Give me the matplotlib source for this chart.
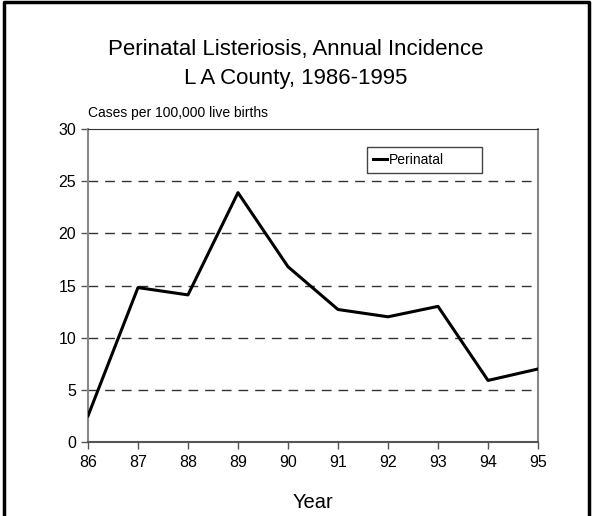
import matplotlib
matplotlib.use('Agg')
import matplotlib.pyplot as plt

years = [86, 87, 88, 89, 90, 91, 92, 93, 94, 95]
incidence = [2.5, 14.8, 14.1, 23.9, 16.8, 12.7, 12.0, 13.0, 5.9, 7.0]
y_ticks = [0, 5, 10, 15, 20, 25, 30]

plt.rcParams['font.family'] = ['Liberation Sans', 'DejaVu Sans']

fig = plt.figure(figsize=(5.92, 5.16), dpi=100)
fig.patch.set_facecolor('white')

# outer frame (left, top, right edges)
fig.add_artist(plt.Line2D([0.006, 0.006, 0.995, 0.995], [0.0, 0.996, 0.996, 0.0],
                          transform=fig.transFigure, color='black', lw=2.5))

ax = fig.add_axes([0.1486, 0.1434, 0.7602, 0.6066])
ax.plot(years, incidence, color='black', lw=2.2, label='Perinatal', zorder=3)

ax.set_xlim(86, 95)
ax.set_ylim(0, 30)
ax.set_xticks(years)
ax.set_yticks(y_ticks)
ax.tick_params(axis='both', labelsize=11.5, color='#555555', length=5, width=1, direction='out')
ax.tick_params(axis='x', pad=4)

for y in y_ticks[:-1]:
    ax.axhline(y, color='#333333', lw=1, dashes=(7, 5), zorder=2)

for side in ['left', 'right']:
    ax.spines[side].set_color('#888888')
    ax.spines[side].set_linewidth(1.5)
ax.spines['top'].set_color('#333333')
ax.spines['bottom'].set_color('#555555')
ax.spines['bottom'].set_linewidth(1.5)

ax.set_xlabel('Year', fontsize=14.5, labelpad=17)
ax.text(0.0, 1.03, 'Cases per 100,000 live births', transform=ax.transAxes,
        fontsize=10, ha='left', va='bottom')

fig.text(0.5, 0.905, 'Perinatal Listeriosis, Annual Incidence', ha='center', va='center', fontsize=16)
fig.text(0.5, 0.848, 'L A County, 1986-1995', ha='center', va='center', fontsize=16)

leg = ax.legend(loc='upper left', bbox_to_anchor=(0.62, 0.4, 0.255, 0.5425), mode='expand',
                fontsize=10, handlelength=1.0, handletextpad=0.1, borderpad=0.45,
                fancybox=False, framealpha=1, borderaxespad=0)
leg.get_frame().set_edgecolor('#444444')
leg.get_frame().set_linewidth(1)

fig.savefig('out.png', dpi=100)
